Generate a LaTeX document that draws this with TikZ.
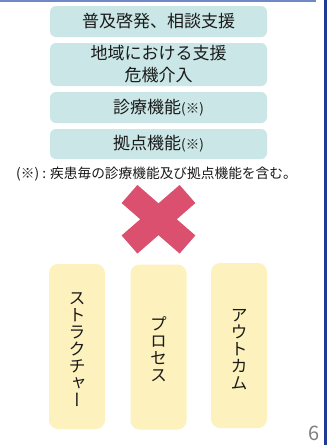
\documentclass[tikz,border=0pt]{standalone}
\usepackage{fontspec}
\newfontfamily\jp{Noto Sans CJK JP}
\newfontfamily\vjp[RawFeature=+vert]{Noto Sans CJK JP}
\definecolor{tealbox}{HTML}{CAE6E6}
\definecolor{yelbox}{HTML}{FDF2BD}
\definecolor{xred}{HTML}{DB4F6F}
\definecolor{topline}{HTML}{7088C8}
\definecolor{barblue}{HTML}{1C3A96}
\definecolor{textc}{HTML}{1A1A1A}
\definecolor{pagegray}{HTML}{808080}
\begin{document}
\begin{tikzpicture}[x=1pt,y=-1pt,
  tbox/.style={fill=tealbox, rounded corners=6pt, draw=none, minimum width=217pt,
    inner sep=0pt, font=\jp\fontsize{17}{22}\selectfont, text=textc, align=center},
  ybox/.style={fill=yelbox, rounded corners=9pt, draw=none, minimum width=56pt,
    minimum height=165pt, inner sep=0pt},
  vtext/.style={font=\vjp\fontsize{17}{17}\selectfont, align=center, inner sep=0pt, text=textc}]
\useasboundingbox (0,0) rectangle (327,445);
\fill[white] (0,0) rectangle (327,445);
\draw[topline, line width=1.5pt] (0,0.75) -- (316,0.75);
\fill[barblue] (324,0) rectangle (327,445);

\node[tbox, minimum height=31pt] (b1) at (158.5,21.5) {普及啓発、相談支援};
\node[tbox, minimum height=43pt] (b2) at (158.5,64.5) {地域における支援\\危機介入};
\node[tbox, minimum height=31pt] (b3) at (158.5,107.5) {診療機能{\fontsize{13.5}{13.5}\selectfont(※)}};
\node[tbox, minimum height=30pt] (b4) at (158.5,144) {拠点機能{\fontsize{13.5}{13.5}\selectfont(※)}};
\node[font=\jp\fontsize{13.7}{16}\selectfont, text=textc, inner sep=0pt] (note) at (156.5,174) {(※) : 疾患毎の診療機能及び拠点機能を含む。};

\draw[xred, line width=24pt] (129.5,194) -- (187.5,244.5);
\draw[xred, line width=24pt] (187.5,194) -- (129.5,244.5);

\node[ybox] (y1) at (77,346.5) {};
\node[ybox] (y2) at (158.5,347) {};
\node[ybox] (y3) at (239,345.5) {};
\node[vtext] (t1) at (77,350) {ス\\ト\\ラ\\ク\\チ\\ャ\\ー};
\node[vtext] (t2) at (158.5,349) {プ\\ロ\\セ\\ス};
\node[vtext] (t3) at (239,349.5) {ア\\ウ\\ト\\カ\\ム};

\node[font=\jp\fontsize{20}{20}\selectfont, text=pagegray, inner sep=0pt] (pg) at (314,433) {6};
\end{tikzpicture}
\end{document}
